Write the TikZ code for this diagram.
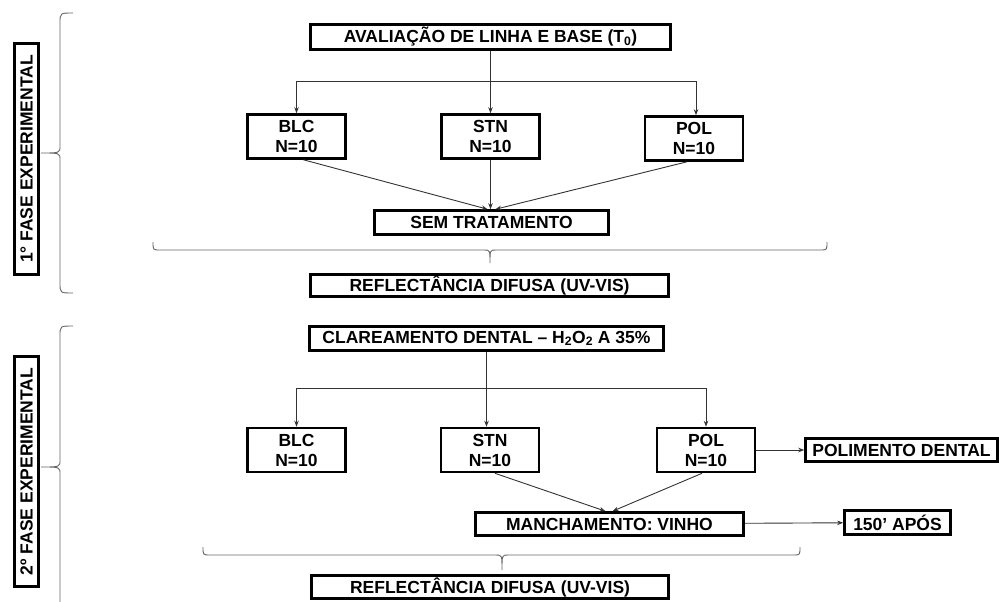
\documentclass[tikz,border=0pt]{standalone}
\usepackage{fontspec}
\setmainfont{Liberation Sans}
\usetikzlibrary{positioning,arrows.meta}
\tikzset{
  caixa/.style={draw, line width=2.6pt, inner sep=0pt, align=center,
    font=\bfseries\fontsize{17.5}{20}\selectfont},
  grupo/.style={caixa, minimum width=98pt, minimum height=44pt},
  fio/.style={draw=black!80, line width=0.9pt},
  seta/.style={fio, -{Stealth[length=6pt,width=4.5pt]}},
  chave/.style={draw=black!60, line width=0.9pt},
}

\begin{document}
\begin{tikzpicture}[x=1pt,y=-1pt]
\useasboundingbox (0,0) rectangle (999,602);

\node[caixa, rotate=90, minimum width=231pt, minimum height=24pt] (fase1) at (26.5,159) {1° FASE EXPERIMENTAL};
\node[caixa, rotate=90, minimum width=230pt, minimum height=24pt] (fase2) at (26.5,471.5) {2º FASE EXPERIMENTAL};

\node[caixa, minimum width=360pt, minimum height=25pt] (aval) at (490.5,37) {AVALIAÇÃO DE LINHA E BASE (T\textsubscript{0})};
\node[grupo] (blc1) at (296.5,136.5) {BLC\\N=10};
\node[grupo] (stn1) at (490.5,136.5) {STN\\N=10};
\node[grupo] (pol1) at (694,138.5) {POL\\N=10};
\node[caixa, minimum width=234pt, minimum height=24pt] (sem) at (491.5,222.5) {SEM TRATAMENTO};
\node[caixa, minimum width=358pt, minimum height=22pt] (refl1) at (489.5,285.5) {REFLECTÂNCIA DIFUSA (UV-VIS)};

\node[caixa, minimum width=354pt, minimum height=24pt] (clar) at (486.5,338.5) {CLAREAMENTO DENTAL – H\textsubscript{2}O\textsubscript{2} A 35\%};
\node[grupo] (blc2) at (296.5,450) {BLC\\N=10};
\node[grupo] (stn2) at (490,450) {STN\\N=10};
\node[grupo] (pol2) at (706,450) {POL\\N=10};
\node[caixa, minimum width=192pt, minimum height=23pt] (polim) at (901.5,450) {POLIMENTO DENTAL};
\node[caixa, minimum width=268pt, minimum height=23pt] (manch) at (609.5,524) {MANCHAMENTO: VINHO};
\node[caixa, minimum width=106pt, minimum height=24pt] (apos) at (897.5,522.5) {150' APÓS};
\node[caixa, minimum width=357pt, minimum height=23pt] (refl2) at (490,587) {REFLECTÂNCIA DIFUSA (UV-VIS)};

\path (aval.south) ++(0,31) coordinate (j1);
\draw[fio] (aval) -- (j1);
\draw[seta] (j1) -| (blc1);
\draw[seta] (j1) -- (j1 |- stn1.north);
\draw[seta] (j1) -| ([xshift=2pt]pol1.north);
\draw[seta] ([xshift=7pt]blc1.south) -- ([xshift=-4pt]sem.north);
\draw[seta] (stn1.south) -- (stn1.south |- sem.north);
\draw[seta] ([xshift=-7pt]pol1.south) -- ([xshift=4pt]sem.north);

\path (clar.south) ++(0,37) coordinate (j2);
\draw[fio] (clar) -- (j2);
\draw[seta] (j2) -| (blc2);
\draw[seta] (j2) -- (j2 |- stn2.north);
\draw[seta] (j2) -| (pol2);
\draw[seta] ([xshift=5pt]stn2.south) -- ([xshift=-4pt]manch.north);
\draw[seta] ([xshift=-4pt]pol2.south) -- ([xshift=3pt]manch.north);
\draw[seta] (pol2) -- (polim);
\draw[seta] (manch) -- (apos);

% chaves
\draw[chave] (73,13) .. controls (60,13) .. (60,23) -- (60,146) .. controls (60,153) .. (41,153)
  .. controls (60,153) .. (60,160) -- (60,283) .. controls (60,293) .. (73,293);
\draw[chave] (73,326) .. controls (60,326) .. (60,336) -- (60,460) .. controls (60,467) .. (41,467)
  .. controls (60,467) .. (60,474) -- (60,610);
\draw[chave] (153,242) .. controls (153,250) .. (160,250) -- (484,250) .. controls (490,250) .. (490,263)
  .. controls (490,250) .. (496,250) -- (820,250) .. controls (827,250) .. (827,242);
\draw[chave] (203,547) .. controls (203,555) .. (210,555) -- (496,555) .. controls (502,555) .. (502,570)
  .. controls (502,555) .. (508,555) -- (793,555) .. controls (800,555) .. (800,547);
\end{tikzpicture}
\end{document}
